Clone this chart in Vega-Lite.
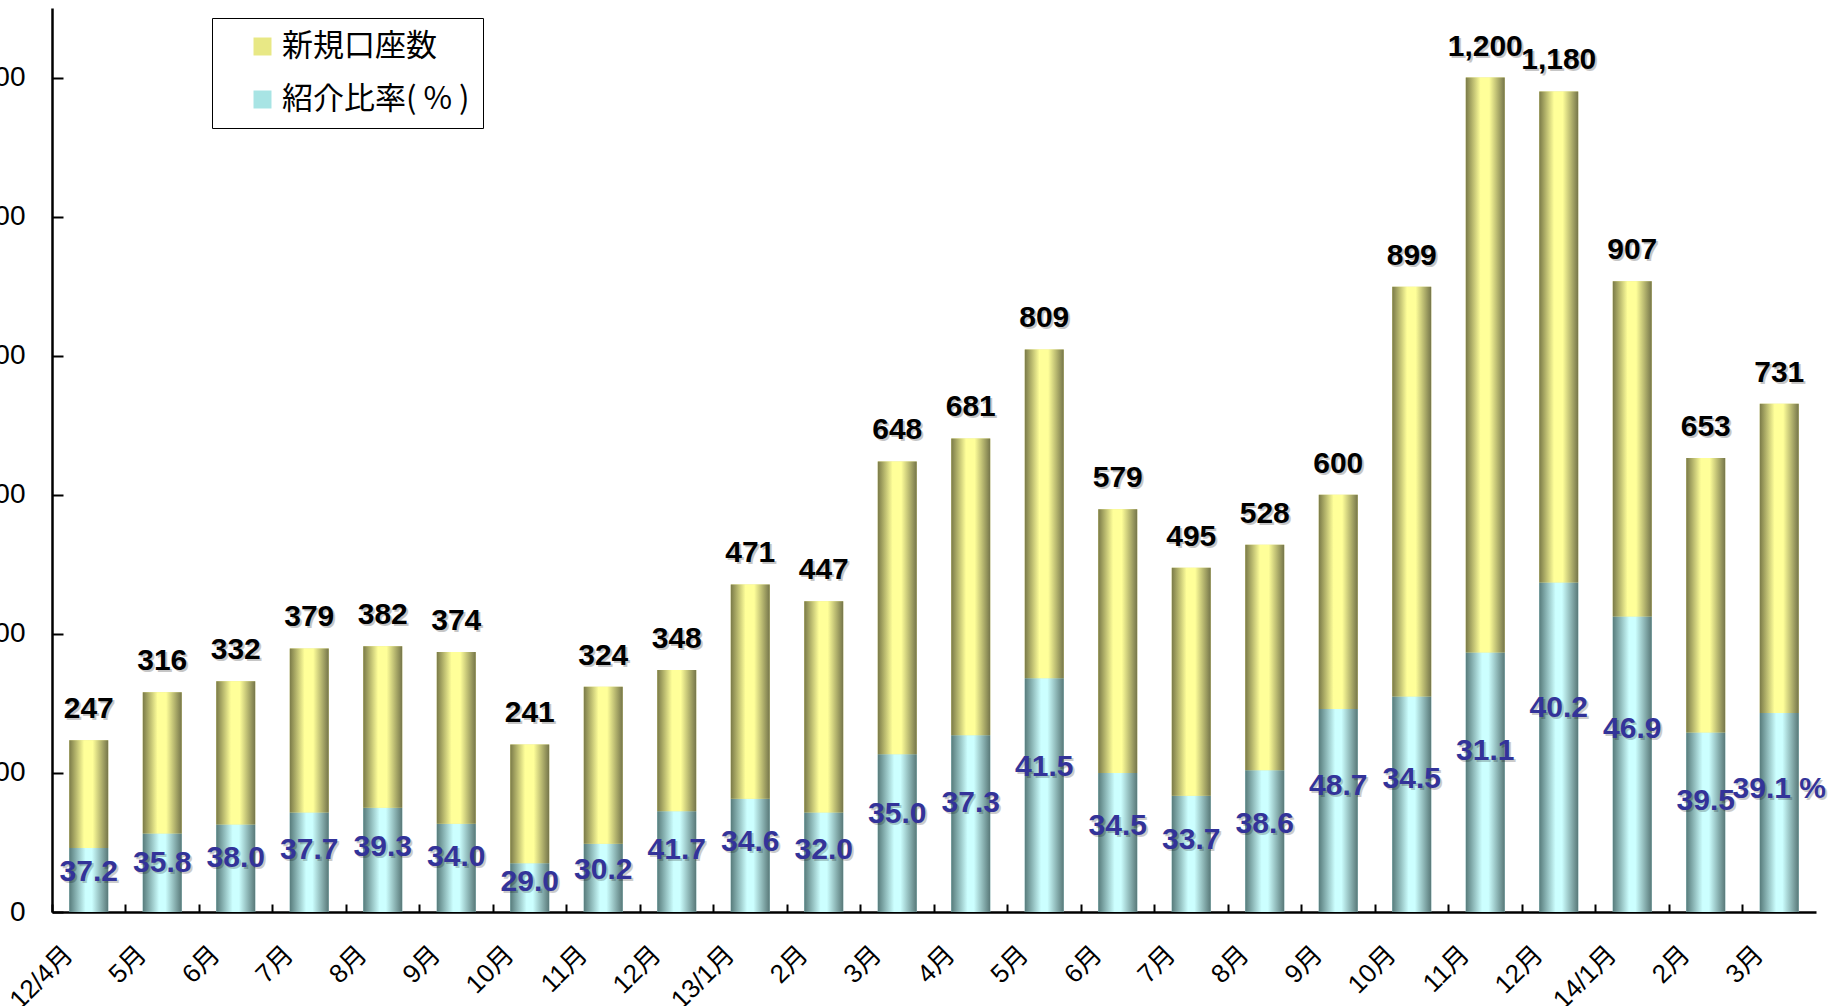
{
  "$schema": "https://vega.github.io/schema/vega-lite/v6.json",
  "width": 1764,
  "height": 904,
  "autosize": {"type": "none"},
  "padding": {"left": 52, "top": 8, "right": 21, "bottom": 94},
  "background": "white",
  "config": {"view": {"stroke": null}, "font": "Liberation Sans", "axis": {"grid": false}},
  "data": {"values": [
    {"month": "12/4月", "total": 247, "referral": 92, "ratio_label": "37.2"},
    {"month": "12/5月", "total": 316, "referral": 113, "ratio_label": "35.8"},
    {"month": "12/6月", "total": 332, "referral": 126, "ratio_label": "38.0"},
    {"month": "12/7月", "total": 379, "referral": 143, "ratio_label": "37.7"},
    {"month": "12/8月", "total": 382, "referral": 150, "ratio_label": "39.3"},
    {"month": "12/9月", "total": 374, "referral": 127, "ratio_label": "34.0"},
    {"month": "12/10月", "total": 241, "referral": 70, "ratio_label": "29.0"},
    {"month": "12/11月", "total": 324, "referral": 98, "ratio_label": "30.2"},
    {"month": "12/12月", "total": 348, "referral": 145, "ratio_label": "41.7"},
    {"month": "13/1月", "total": 471, "referral": 163, "ratio_label": "34.6"},
    {"month": "13/2月", "total": 447, "referral": 143, "ratio_label": "32.0"},
    {"month": "13/3月", "total": 648, "referral": 227, "ratio_label": "35.0"},
    {"month": "13/4月", "total": 681, "referral": 254, "ratio_label": "37.3"},
    {"month": "13/5月", "total": 809, "referral": 336, "ratio_label": "41.5"},
    {"month": "13/6月", "total": 579, "referral": 200, "ratio_label": "34.5"},
    {"month": "13/7月", "total": 495, "referral": 167, "ratio_label": "33.7"},
    {"month": "13/8月", "total": 528, "referral": 204, "ratio_label": "38.6"},
    {"month": "13/9月", "total": 600, "referral": 292, "ratio_label": "48.7"},
    {"month": "13/10月", "total": 899, "referral": 310, "ratio_label": "34.5"},
    {"month": "13/11月", "total": 1200, "referral": 373, "ratio_label": "31.1"},
    {"month": "13/12月", "total": 1180, "referral": 474, "ratio_label": "40.2"},
    {"month": "14/1月", "total": 907, "referral": 425, "ratio_label": "46.9"},
    {"month": "14/2月", "total": 653, "referral": 258, "ratio_label": "39.5"},
    {"month": "14/3月", "total": 731, "referral": 286, "ratio_label": "39.1 %"}
  ]},
  "encoding": {
    "x": {
      "field": "month", "type": "nominal", "sort": null,
      "scale": {"paddingInner": 0, "paddingOuter": 0},
      "axis": {
        "title": null, "bandPosition": 0,
        "labelAngle": -45, "labelAlign": "right", "labelBaseline": "middle",
        "labelFontSize": 26, "labelFont": "Liberation Sans, Noto Sans CJK JP", "labelColor": "black",
        "labelPadding": 46, "labelOffset": -20, "labelOverlap": false,
        "tickSize": -8, "tickColor": "black", "tickWidth": 2,
        "domainColor": "black", "domainWidth": 2.5,
        "labelExpr": "(datum.value == '12/4月' || indexof(datum.value, '/1月') >= 0) ? datum.value : split(datum.value, '/')[1]"
      }
    }
  },
  "layer": [
    {
      "mark": {"type": "bar", "width": {"band": 0.53}},
      "encoding": {
        "y": {
          "field": "referral", "type": "quantitative",
          "scale": {"domain": [0, 1300], "nice": false},
          "axis": {
            "title": null, "values": [0, 200, 400, 600, 800, 1000, 1200],
            "labelFontSize": 28, "labelColor": "black", "labelPadding": 38,
            "tickSize": -11, "tickWidth": 2, "tickColor": "black",
            "domainColor": "black", "domainWidth": 2.5
          }
        },
        "color": {
          "datum": "紹介比率( % )",
          "scale": {
            "domain": ["新規口座数", "紹介比率( % )"],
            "range": ["#e8e885", "#a8e4e4"]
          },
          "legend": {
            "orient": "none", "legendX": 160, "legendY": 10, "title": null,
            "strokeColor": "black", "fillColor": "white",
            "padding": 13, "symbolOffset": 22, "symbolType": "square", "symbolSize": 324,
            "symbolStrokeWidth": 0, "labelFont": "Noto Sans CJK JP", "labelFontSize": 31,
            "labelColor": "black", "rowPadding": 21, "labelOffset": 4, "labelLimit": 400
          }
        }
      }
    },
    {
      "mark": {"type": "bar", "width": {"band": 0.53}},
      "encoding": {
        "y": {"field": "referral", "type": "quantitative", "scale": {"domain": [0, 1300], "nice": false}, "axis": null},
        "y2": {"field": "total"},
        "color": {"datum": "新規口座数"}
      }
    },
    {
      "mark": {"type": "bar", "width": {"band": 0.53}, "color": {"x1": 0, "y1": 0, "x2": 1, "y2": 0, "gradient": "linear", "stops": [
                {"offset": 0, "color": "#577b7b"}, {"offset": 0.42, "color": "#ccffff"},
                {"offset": 0.58, "color": "#ccffff"}, {"offset": 1, "color": "#587878"}]}},
      "encoding": {
        "y": {"field": "referral", "type": "quantitative", "scale": {"domain": [0, 1300], "nice": false}, "axis": null}
      }
    },
    {
      "mark": {"type": "bar", "width": {"band": 0.53}, "color": {"x1": 0, "y1": 0, "x2": 1, "y2": 0, "gradient": "linear", "stops": [
                {"offset": 0, "color": "#7a7a48"}, {"offset": 0.38, "color": "#ffff99"},
                {"offset": 0.6, "color": "#ffff99"}, {"offset": 1, "color": "#75754a"}]}},
      "encoding": {
        "y": {"field": "referral", "type": "quantitative", "scale": {"domain": [0, 1300], "nice": false}, "axis": null},
        "y2": {"field": "total"}
      }
    },
    {
      "mark": {"type": "text", "baseline": "alphabetic", "dy": -20, "dx": 2, "fontSize": 30, "fontWeight": "bold", "font": "Liberation Sans", "color": "#000000", "opacity": 0.22},
      "encoding": {
        "y": {"field": "total", "type": "quantitative", "scale": {"domain": [0, 1300], "nice": false}, "axis": null},
        "text": {"field": "total", "type": "quantitative", "format": ","}
      }
    },
    {
      "mark": {"type": "text", "baseline": "alphabetic", "dy": -22, "fontSize": 30, "fontWeight": "bold", "font": "Liberation Sans", "color": "#000000"},
      "encoding": {
        "y": {"field": "total", "type": "quantitative", "scale": {"domain": [0, 1300], "nice": false}, "axis": null},
        "text": {"field": "total", "type": "quantitative", "format": ","}
      }
    },
    {
      "mark": {"type": "text", "baseline": "middle", "dx": 2, "dy": 2, "fontSize": 30, "fontWeight": "bold", "font": "Liberation Sans", "color": "#000000", "opacity": 0.2},
      "encoding": {
        "y": {"field": "referral", "type": "quantitative", "scale": {"domain": [0, 2100], "nice": false}, "axis": null},
        "text": {"field": "ratio_label", "type": "nominal"}
      }
    },
    {
      "mark": {"type": "text", "baseline": "middle", "fontSize": 30, "fontWeight": "bold", "font": "Liberation Sans", "color": "#333399"},
      "encoding": {
        "y": {"field": "referral", "type": "quantitative", "scale": {"domain": [0, 2100], "nice": false}, "axis": null},
        "text": {"field": "ratio_label", "type": "nominal"}
      }
    }
  ],
  "resolve": {"scale": {"y": "independent"}}
}
